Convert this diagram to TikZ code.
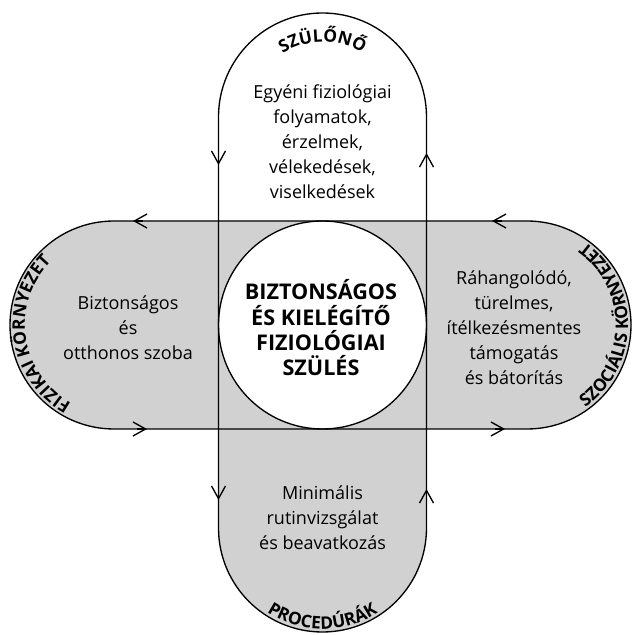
\documentclass[tikz,border=0pt]{standalone}
\usepackage{fontspec}
\setmainfont{Open Sans}
\usepackage{tikz}
\usetikzlibrary{calc,arrows.meta,decorations.text}

\tikzset{
  body/.style={align=center, inner sep=0pt, font=\fontsize{13.5}{18.75}\selectfont},
  hub/.style={align=center, inner sep=0pt, font=\fontsize{16.2}{19}\selectfont\bfseries},
  flow/.style={-{Straight Barb[length=9.5pt,width=10.5pt]}},
}

\begin{document}
\begin{tikzpicture}[x=0.75pt,y=0.75pt]
\def\cLine{black}
\def\cFill{black!18}
\def\w{104}
\def\fRim{\fontsize{13}{16}\selectfont\bfseries}
\useasboundingbox (0,0) rectangle (632,635);
\coordinate (O) at (322.5,310);
% fills
\path[fill=\cFill] (114,414) -- (527,414) arc[start angle=90,end angle=-90,radius=\w] -- (114,206) arc[start angle=270,end angle=90,radius=\w] -- cycle;
\path[fill=\cFill] (218.5,414) -- (218.5,107) arc[start angle=180,end angle=360,radius=\w] -- (426.5,414) -- cycle;
\filldraw[fill=white,draw=\cLine,line width=1pt] (O) circle[radius=\w];
% outlines
\draw[\cLine, line width=1pt] (114,414) -- (527,414) arc[start angle=90,end angle=-90,radius=\w] -- (114,206) arc[start angle=270,end angle=90,radius=\w] -- cycle;
\draw[\cLine, line width=1pt] (218.5,518) -- (218.5,107) arc[start angle=180,end angle=360,radius=\w] -- (426.5,518) arc[start angle=0,end angle=180,radius=\w] -- cycle;
% arrow heads
\draw[\cLine, line width=1pt, flow] (218.5,480) -- (218.5,470);
\draw[\cLine, line width=1pt, flow] (218.5,145) -- (218.5,135);
\draw[\cLine, line width=1pt, flow] (426.5,472) -- (426.5,482);
\draw[\cLine, line width=1pt, flow] (426.5,136) -- (426.5,146);
\draw[\cLine, line width=1pt, flow] (143,414) -- (133,414);
\draw[\cLine, line width=1pt, flow] (502,414) -- (492,414);
\draw[\cLine, line width=1pt, flow] (137,206) -- (147,206);
\draw[\cLine, line width=1pt, flow] (495,206) -- (505,206);
% texts
\node[body] (parent) at (322.5,493) {Egyéni fiziológiai\\folyamatok,\\érzelmek,\\vélekedések,\\viselkedések};
\node[body] (room) at (128,307) {Biztonságos\\és\\otthonos szoba};
\node[body] (support) at (514,307) {Ráhangolódó,\\türelmes,\\ítélkezésmentes\\támogatás\\és bátorítás};
\node[body] (care) at (322.5,117) {Minimális\\rutinvizsgálat\\és beavatkozás};
\node[hub] (birth) at (321,307) {BIZTONSÁGOS\\ÉS KIELÉGÍTŐ\\FIZIOLÓGIAI\\SZÜLÉS};
% arc labels
\path[decorate, decoration={text along path, text align=center, text={|\fRim|SZÜLŐNŐ}}] (247.5,518) arc[start angle=180,end angle=0,radius=75];
\path[decorate, decoration={text along path, text align=center, text={|\fRim|FIZIKAI KÖRNYEZET}}] ([shift={(280:89)}]114,310) arc[start angle=280,end angle=96,radius=89];
\path[decorate, decoration={text along path, text align=center, text={|\fRim|SZOCIÁLIS KÖRNYEZET}}] ([shift={(-90:101)}]527,310) arc[start angle=-90,end angle=90,radius=101];
\path[decorate, decoration={text along path, text align=center, text={|\fRim|PROCEDÚRÁK}}] (221.5,107) arc[start angle=180,end angle=360,radius=101];
\end{tikzpicture}
\end{document}
